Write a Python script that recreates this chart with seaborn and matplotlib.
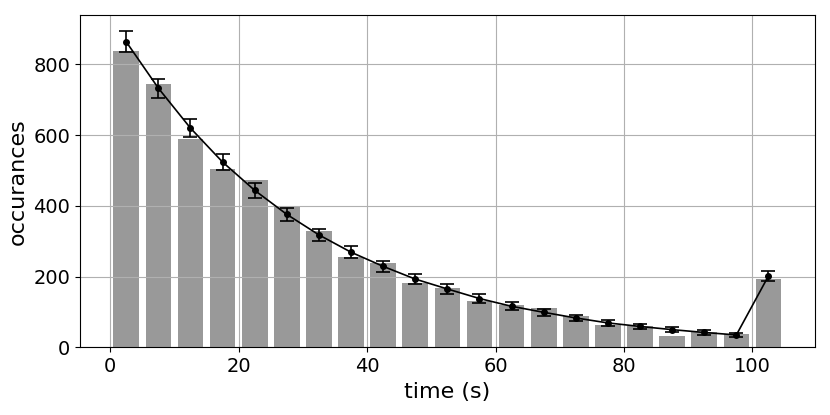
import numpy as np
import matplotlib
matplotlib.use("Agg")
import matplotlib.pyplot as plt
import seaborn as sns

# bin centres (s), measured counts per bin, model counts and their errors
bin_centers = [2.5, 7.5, 12.5, 17.5, 22.5, 27.5, 32.5, 37.5, 42.5, 47.5, 52.5,
               57.5, 62.5, 67.5, 72.5, 77.5, 82.5, 87.5, 92.5, 97.5, 102.5]
counts = [838, 744, 588, 505, 474, 397, 328, 255, 238, 182, 168,
          130, 121, 112, 88, 64, 61, 33, 42, 37, 192]
model = [864, 733, 620, 524, 444, 376, 318, 269, 229, 193, 165,
         138, 116, 99, 83, 69, 59, 50, 42, 35, 202]
model_err = [29.4, 27.1, 24.9, 22.9, 21.1, 19.4, 17.8, 16.4, 15.1, 13.9, 12.8,
             11.7, 10.8, 9.9, 9.1, 8.3, 7.7, 7.1, 6.5, 5.9, 14.2]

fig, ax = plt.subplots(figsize=(8.3, 4.15), dpi=100)

sns.barplot(x=bin_centers, y=counts, native_scale=True, width=0.8,
            color="#999999", saturation=1, ax=ax)
ax.errorbar(bin_centers, model, yerr=model_err, fmt="o-", color="black",
            markersize=4, linewidth=1.2, elinewidth=1.2, capsize=5, capthick=1.2)

ax.set_xlim(-4.7, 109.7)
ax.set_ylim(0, 940)
ax.set_xticks([0, 20, 40, 60, 80, 100])
ax.set_yticks([0, 200, 400, 600, 800])
ax.grid(True, color="#b0b0b0", linewidth=0.8)
ax.tick_params(labelsize=14)
ax.set_xlabel("time (s)", fontsize=16)
ax.set_ylabel("occurances", fontsize=16)

fig.subplots_adjust(left=0.0964, right=0.9816, top=0.9639, bottom=0.1631)
fig.savefig("out.png", dpi=100)
